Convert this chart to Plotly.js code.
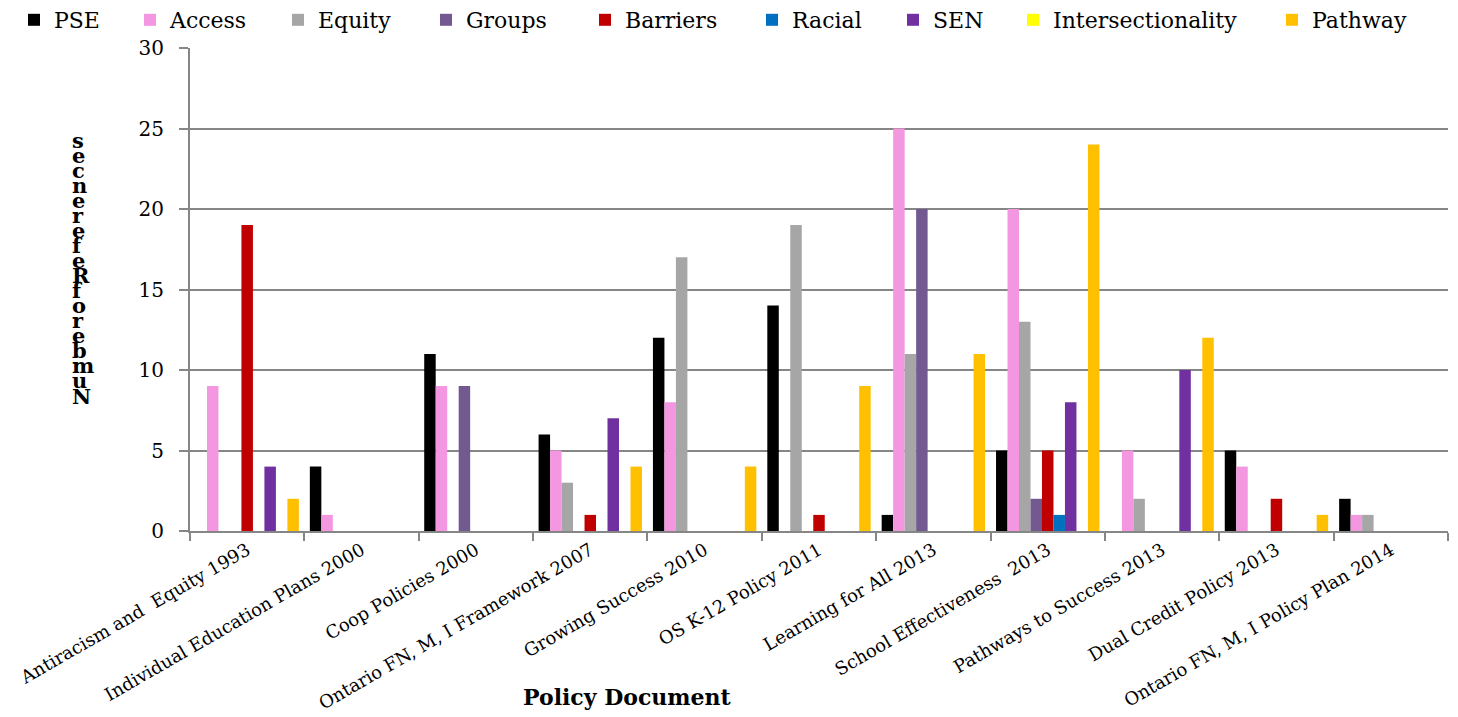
<!DOCTYPE html>
<html>
<head>
<meta charset="utf-8">
<script src="https://cdn.plot.ly/plotly-3.0.1.min.js"></script>
<style>html,body{margin:0;padding:0;background:#fff;}#chart{width:1458px;height:717px;}</style>
</head>
<body>
<div id="chart"></div>
<script>
var categories = ["Antiracism and  Equity 1993", "Individual Education Plans 2000", "Coop Policies 2000",
  "Ontario FN, M, I Framework 2007", "Growing Success 2010", "OS K-12 Policy 2011", "Learning for All 2013",
  "School Effectiveness  2013", "Pathways to Success 2013", "Dual Credit Policy 2013", "Ontario FN, M, I Policy Plan 2014"];

var seriesNames = ["PSE", "Access", "Equity", "Groups", "Barriers", "Racial", "SEN", "Intersectionality", "Pathway"];

var pse               = [0, 4, 11, 6, 12, 14, 1, 5, 0, 5, 2];
var access            = [9, 1, 9, 5, 8, 0, 25, 20, 5, 4, 1];
var equity            = [0, 0, 0, 3, 17, 19, 11, 13, 2, 0, 1];
var groups            = [0, 0, 9, 0, 0, 0, 20, 2, 0, 0, 0];
var barriers          = [19, 0, 0, 1, 0, 1, 0, 5, 0, 2, 0];
var racial            = [0, 0, 0, 0, 0, 0, 0, 1, 0, 0, 0];
var sen               = [4, 0, 0, 7, 0, 0, 0, 8, 10, 0, 0];
var intersectionality = [0, 0, 0, 0, 0, 0, 0, 0, 0, 0, 0];
var pathway           = [2, 0, 0, 4, 4, 9, 11, 24, 12, 1, 0];

var yTickVals = [0, 5, 10, 15, 20, 25, 30];
var yTitle = "Number of References";
var xTitle = "Policy Document";

var seriesValues = [pse, access, equity, groups, barriers, racial, sen, intersectionality, pathway];
var colors = ["#000000", "#F397E0", "#A6A6A6", "#725A91", "#C00000", "#0070C0", "#7030A0", "#FFFF00", "#FFC000"];

// legend entry left edges (px) to mimic the original spacing
var legendLeft = [28, 144, 292, 440, 599, 766, 907, 1027, 1286];

var W = 1458, H = 717;
var serif = "DejaVu Serif";
var axisGray = "#868686";

var traces = seriesNames.map(function (n, i) {
  return {
    type: "bar",
    name: n,
    x: categories,
    y: seriesValues[i],
    marker: { color: colors[i], line: { width: 0 } },
    legend: i === 0 ? "legend" : "legend" + (i + 1),
    hoverinfo: "x+y+name"
  };
});

var layout = {
  width: W, height: H,
  margin: { l: 190, r: 10, t: 48, b: 186 },
  paper_bgcolor: "#ffffff", plot_bgcolor: "#ffffff",
  barmode: "group", bargap: 0.096, bargroupgap: 0,
  font: { family: serif, color: "#000000", size: 18 },
  xaxis: {
    type: "category",
    tickson: "boundaries",
    ticks: "outside", ticklen: 8, tickcolor: axisGray, tickwidth: 2,
    showline: true, linecolor: axisGray, linewidth: 2,
    showgrid: false, zeroline: false,
    tickangle: -30,
    tickfont: { family: serif, size: 18, color: "#000" }
  },
  yaxis: {
    range: [0, 30], tickvals: yTickVals,
    ticks: "outside", ticklen: 9, tickcolor: axisGray, tickwidth: 2,
    ticklabelstandoff: 11,
    showline: true, linecolor: axisGray, linewidth: 2,
    showgrid: true, gridcolor: axisGray, gridwidth: 2,
    zeroline: false,
    tickfont: { family: serif, size: 20, color: "#000" }
  },
  annotations: [],
  showlegend: true
};

seriesNames.forEach(function (n, i) {
  var key = i === 0 ? "legend" : "legend" + (i + 1);
  layout[key] = {
    orientation: "h",
    xref: "container", yref: "container",
    x: (legendLeft[i] - 14) / W, xanchor: "left",
    y: 1 - 20 / H, yanchor: "middle",
    bgcolor: "rgba(0,0,0,0)", borderwidth: 0,
    font: { family: serif, size: 22, color: "#000" }
  };
});

// stacked upright letters of the y-axis title (reading upward)
var letters = yTitle.replace(/ /g, "").split("").reverse();
var topPx = 140, botPx = 396, plotTop = 48, plotBot = 531;
letters.forEach(function (ch, k) {
  var py = topPx + k * (botPx - topPx) / (letters.length - 1);
  layout.annotations.push({
    text: "<b>" + ch + "</b>",
    xref: "paper", yref: "paper",
    x: (70 - 190) / 1258, xanchor: "left",
    y: (plotBot - py) / (plotBot - plotTop), yanchor: "middle",
    showarrow: false,
    font: { family: serif, size: 21, color: "#000" }
  });
});

layout.annotations.push({
  text: "<b>" + xTitle + "</b>",
  xref: "paper", yref: "paper",
  x: (627 - 190) / 1258, xanchor: "center",
  y: (plotBot - 697) / (plotBot - plotTop), yanchor: "middle",
  showarrow: false,
  font: { family: serif, size: 22, color: "#000" }
});

Plotly.newPlot("chart", traces, layout, { displayModeBar: false, staticPlot: true });
</script>
</body>
</html>
